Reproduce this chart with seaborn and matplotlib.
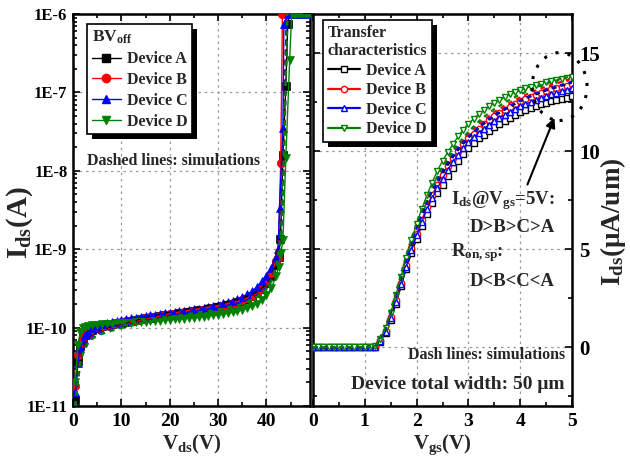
import matplotlib
matplotlib.use("Agg")
import numpy as np
import matplotlib.pyplot as plt
import seaborn as sns
from matplotlib.lines import Line2D
from matplotlib.patches import Ellipse, Rectangle
from matplotlib.transforms import IdentityTransform
from matplotlib.ticker import MultipleLocator, LogLocator, FuncFormatter, NullFormatter

# ---------------------------------------------------------------- data
DEVICES = ["Device A", "Device B", "Device C", "Device D"]
COLORS = ["#000000", "#ff0000", "#0000ff", "#008000"]
MARKERS = ["s", "o", "^", "v"]

# Off-state breakdown sweep (Vds in V, Ids in units of 1E-10 A)
VDS_LOW = [0.5, 1, 1.5, 2, 2.5, 3, 4, 5, 6, 7, 8, 9, 10, 11, 12, 13, 14, 15, 16,
           17, 18, 19, 20, 21, 22, 23, 24, 25, 26, 27, 28, 29, 30, 31, 32, 33,
           34, 35, 36, 37, 38, 39, 40, 41, 42]
IDS_LOW_A = [0.12, 0.38, 0.58, 0.72, 0.8, 0.86, 0.94, 1.0, 1.04, 1.07, 1.1, 1.13,
             1.16, 1.19, 1.22, 1.25, 1.28, 1.31, 1.34, 1.37, 1.4, 1.43, 1.46,
             1.49, 1.52, 1.55, 1.58, 1.61, 1.65, 1.69, 1.73, 1.78, 1.83, 1.89,
             1.95, 2.02, 2.1, 2.2, 2.33, 2.5, 2.75, 3.1, 3.7, 4.6, 6.2]
IDS_LOW_B = [0.18, 0.45, 0.62, 0.74, 0.82, 0.88, 0.95, 1.01, 1.05, 1.08, 1.11,
             1.14, 1.17, 1.2, 1.23, 1.26, 1.29, 1.32, 1.35, 1.38, 1.41, 1.44,
             1.47, 1.5, 1.53, 1.56, 1.59, 1.62, 1.66, 1.7, 1.74, 1.79, 1.84, 1.9,
             1.96, 2.03, 2.12, 2.22, 2.36, 2.55, 2.8, 3.2, 3.9, 5.0, 7.0]
IDS_LOW_C = [0.15, 0.35, 0.55, 0.7, 0.8, 0.88, 0.98, 1.05, 1.1, 1.14, 1.18, 1.22,
             1.25, 1.28, 1.31, 1.34, 1.37, 1.4, 1.43, 1.46, 1.49, 1.52, 1.55,
             1.58, 1.61, 1.64, 1.67, 1.71, 1.75, 1.79, 1.84, 1.9, 1.96, 2.03, 2.1,
             2.2, 2.32, 2.47, 2.65, 2.9, 3.3, 3.9, 4.6, 5.8, 8.0]
IDS_LOW_D = [0.2, 0.6, 0.88, 0.98, 1.03, 1.05, 1.07, 1.09, 1.1, 1.11, 1.12, 1.13,
             1.14, 1.15, 1.16, 1.17, 1.18, 1.19, 1.2, 1.21, 1.22, 1.24, 1.25,
             1.27, 1.29, 1.3, 1.32, 1.34, 1.36, 1.38, 1.4, 1.43, 1.46, 1.49, 1.53,
             1.57, 1.62, 1.68, 1.76, 1.87, 2.02, 2.25, 2.6, 3.2, 4.5]

# Breakdown region up to the 1E-6 A compliance (Vds in V, Ids in A)
TAIL_V_A = [42.5, 42.9, 43.4, 44.0, 44.4, 44.8, 45.5, 46.5, 47.5, 48.5]
TAIL_I_A = [8e-10, 1.35e-9, 1.6e-8, 1.2e-7, 7.5e-7, 1e-6, 1e-6, 1e-6, 1e-6, 1e-6]
TAIL_V_B = [42.4, 42.95, 43.3, 44.0, 45.0, 46.0, 47.0, 48.0]
TAIL_I_B = [7.7e-10, 1.25e-8, 1e-6, 1e-6, 1e-6, 1e-6, 1e-6, 1e-6]
TAIL_V_C = [42.4, 42.7, 43.4, 43.6, 44.5, 45.5, 46.5, 47.5, 48.5]
TAIL_I_C = [1.0e-9, 3.4e-9, 3.5e-8, 7.5e-7, 1e-6, 1e-6, 1e-6, 1e-6, 1e-6]
TAIL_V_D = [42.5, 43.0, 43.4, 44.0, 44.8, 45.2, 45.6, 46.0, 46.4, 46.8, 47.2,
            47.6, 48.0, 48.4, 48.8]
TAIL_I_D = [6e-10, 9e-10, 1.3e-9, 1.45e-8, 2.6e-7, 1e-6, 1e-6, 1e-6, 1e-6, 1e-6,
            1e-6, 1e-6, 1e-6, 1e-6, 1e-6]

# Simulated breakdown curves (Ids in units of 1E-10 A)
SIM_VDS = [0.5, 1, 1.5, 2, 3, 4, 5, 7, 10, 15, 20, 25, 30, 35, 38, 40, 41, 42,
           43, 43.5, 44, 44.3]
SIM_BV_A = [0.1, 0.25, 0.4, 0.52, 0.68, 0.78, 0.85, 0.95, 1.08, 1.3, 1.55, 1.78,
            2.0, 2.35, 2.8, 3.5, 4.3, 6.5, 20, 150, 3000, 10000]
SIM_BV_B = [0.1, 0.23, 0.38, 0.5, 0.66, 0.76, 0.83, 0.93, 1.05, 1.26, 1.48, 1.68,
            1.88, 2.2, 2.65, 3.3, 4.1, 6.2, 18, 120, 2500, 10000]
SIM_BV_C = [0.1, 0.22, 0.36, 0.48, 0.64, 0.74, 0.81, 0.91, 1.02, 1.22, 1.42, 1.6,
            1.78, 2.1, 2.55, 3.2, 4.0, 6.0, 16, 100, 2000, 10000]
SIM_BV_D = [0.1, 0.21, 0.35, 0.46, 0.62, 0.72, 0.79, 0.88, 0.99, 1.18, 1.36,
            1.53, 1.7, 2.0, 2.45, 3.1, 3.9, 5.8, 14, 80, 1500, 10000]

# Transfer characteristics (Vgs in V, Ids in uA/um)
VGS = [0.0, 0.1, 0.2, 0.3, 0.4, 0.5, 0.6, 0.7, 0.8, 0.9, 1.0, 1.1, 1.2, 1.3, 1.4,
       1.5, 1.6, 1.7, 1.8, 1.9, 2.0, 2.1, 2.2, 2.3, 2.4, 2.5, 2.6, 2.7, 2.8, 2.9,
       3.0, 3.1, 3.2, 3.3, 3.4, 3.5, 3.6, 3.7, 3.8, 3.9, 4.0, 4.1, 4.2, 4.3, 4.4,
       4.5, 4.6, 4.7, 4.8, 4.9, 5.0]
ID_A = [0, 0, 0, 0, 0, 0, 0, 0, 0, 0, 0, 0, 0.02, 0.25, 0.75, 1.4, 2.2, 3.1, 4.0,
        4.8, 5.5, 6.2, 6.8, 7.35, 7.85, 8.3, 8.75, 9.15, 9.5, 9.85, 10.15, 10.4,
        10.65, 10.85, 11.05, 11.25, 11.4, 11.55, 11.7, 11.85, 12.0, 12.1, 12.2,
        12.3, 12.4, 12.45, 12.55, 12.6, 12.65, 12.7, 12.8]
ID_B = [0, 0, 0, 0, 0, 0, 0, 0, 0, 0, 0, 0, 0.03, 0.3, 0.85, 1.55, 2.4, 3.3, 4.2,
        5.05, 5.8, 6.5, 7.15, 7.75, 8.3, 8.8, 9.25, 9.65, 10.0, 10.35, 10.65,
        10.9, 11.15, 11.4, 11.6, 11.8, 11.95, 12.1, 12.25, 12.4, 12.55, 12.65,
        12.75, 12.85, 12.95, 13.05, 13.15, 13.2, 13.3, 13.35, 13.45]
ID_C = [0, 0, 0, 0, 0, 0, 0, 0, 0, 0, 0, 0, 0.03, 0.3, 0.8, 1.5, 2.3, 3.2, 4.1,
        4.95, 5.7, 6.4, 7.05, 7.6, 8.1, 8.6, 9.05, 9.45, 9.8, 10.15, 10.45, 10.7,
        10.95, 11.15, 11.35, 11.55, 11.7, 11.85, 12.0, 12.15, 12.3, 12.4, 12.5,
        12.6, 12.7, 12.8, 12.9, 12.95, 13.05, 13.1, 13.2]
ID_D = [0, 0, 0, 0, 0, 0, 0, 0, 0, 0, 0, 0, 0.05, 0.4, 1.0, 1.75, 2.65, 3.6, 4.55,
        5.45, 6.3, 7.05, 7.75, 8.4, 9.0, 9.5, 9.95, 10.35, 10.75, 11.1, 11.4,
        11.65, 11.9, 12.1, 12.3, 12.45, 12.6, 12.75, 12.9, 13.0, 13.1, 13.2, 13.3,
        13.4, 13.45, 13.55, 13.6, 13.65, 13.7, 13.75, 13.8]

# Simulated transfer curves (uA/um)
SIM_VGS = [0, 0.5, 1.0, 1.2, 1.4, 1.6, 1.8, 2.0, 2.25, 2.5, 2.75, 3.0, 3.25, 3.5,
           3.75, 4.0, 4.25, 4.5, 4.75, 5.0]
SIM_ID_A = [0, 0, 0, 0.05, 0.9, 2.6, 4.5, 6.1, 7.7, 8.9, 9.9, 10.7, 11.3, 11.8,
            12.2, 12.55, 12.85, 13.1, 13.3, 13.5]
SIM_ID_B = [0, 0, 0, 0.05, 0.95, 2.7, 4.6, 6.25, 7.85, 9.1, 10.1, 10.9, 11.5,
            12.0, 12.4, 12.75, 13.05, 13.3, 13.5, 13.7]
SIM_ID_C = [0, 0, 0, 0.05, 0.9, 2.65, 4.5, 6.15, 7.75, 9.0, 10.0, 10.75, 11.35,
            11.85, 12.25, 12.6, 12.9, 13.15, 13.35, 13.55]
SIM_ID_D = [0, 0, 0, 0.05, 1.0, 2.8, 4.7, 6.35, 7.95, 9.2, 10.2, 11.0, 11.65,
            12.15, 12.55, 12.9, 13.2, 13.45, 13.65, 13.85]

# ---------------------------------------------------------------- style
sns.set_theme(style="ticks")
plt.rcParams["font.family"] = ["Liberation Serif", "DejaVu Serif"]
plt.rcParams["font.weight"] = "bold"
plt.rcParams["mathtext.fontset"] = "custom"
plt.rcParams["mathtext.rm"] = "Liberation Serif:bold"
plt.rcParams["mathtext.it"] = "Liberation Serif:bold"
plt.rcParams["mathtext.bf"] = "Liberation Serif:bold"
plt.rcParams["axes.linewidth"] = 1.8
plt.rcParams["axes.edgecolor"] = "black"
plt.rcParams["xtick.color"] = "black"
plt.rcParams["ytick.color"] = "black"

fig = plt.figure(figsize=(6.3, 4.61), dpi=100)
ax1 = fig.add_axes([73 / 630, 55 / 461, 237 / 630, 392 / 461])
ax2 = fig.add_axes([313 / 630, 55 / 461, 259 / 630, 392 / 461])

grid_kw = dict(color="#9a9a9a", linestyle=(0, (2, 3)), linewidth=0.9)
sim_ls = (0, (2, 2))

# ---------------------------------------------------------------- BV panel
ax1.set_yscale("log")
low_sets = [IDS_LOW_A, IDS_LOW_B, IDS_LOW_C, IDS_LOW_D]
tail_v = [TAIL_V_A, TAIL_V_B, TAIL_V_C, TAIL_V_D]
tail_i = [TAIL_I_A, TAIL_I_B, TAIL_I_C, TAIL_I_D]
for low, tv, ti, col, mk in zip(low_sets, tail_v, tail_i, COLORS, MARKERS):
    v = list(VDS_LOW) + list(tv)
    cur = [x * 1e-10 for x in low] + list(ti)
    sns.lineplot(x=v, y=cur, ax=ax1, color=col, marker=mk, markersize=6,
                 markeredgecolor=col, markerfacecolor=col, markeredgewidth=0.5,
                 linewidth=1.0, estimator=None, sort=False, legend=False,
                 zorder=3)

for sim, col in zip([SIM_BV_A, SIM_BV_B, SIM_BV_C, SIM_BV_D], COLORS):
    sns.lineplot(x=SIM_VDS, y=[x * 1e-10 for x in sim], ax=ax1, color=col,
                 linestyle=sim_ls, linewidth=1.8, estimator=None, sort=False,
                 legend=False, zorder=4)

ax1.set_xlim(0, 49)
ax1.set_ylim(1e-11, 1e-6)
ax1.xaxis.set_major_locator(MultipleLocator(10))
ax1.xaxis.set_minor_locator(MultipleLocator(5))
ax1.yaxis.set_major_locator(LogLocator(base=10, numticks=10))
ax1.yaxis.set_minor_locator(LogLocator(base=10, subs=np.arange(2, 10), numticks=20))
ax1.yaxis.set_minor_formatter(NullFormatter())
ax1.yaxis.set_major_formatter(
    FuncFormatter(lambda val, pos: "1E%d" % int(round(np.log10(val)))))
ax1.grid(True, which="major", **grid_kw)
ax1.tick_params(which="both", direction="in", top=True, right=True, width=1.2)
ax1.tick_params(which="major", length=5)
ax1.tick_params(which="minor", length=3)
ax1.tick_params(axis="x", labelsize=14, pad=5)
ax1.tick_params(axis="y", labelsize=12, pad=4)
ax1.set_xlabel(r"V$_{ds}$(V)", fontsize=15, fontweight="bold", labelpad=2)
ax1.set_ylabel(r"I$_{ds}$(A)", fontsize=21, fontweight="bold")
ax1.yaxis.set_label_coords(-0.16, 0.467)

ax1.text(20.7, 1.33e-8, "Dashed lines: simulations", fontsize=11.5,
         fontweight="bold", ha="center", va="center")

h1 = [Line2D([], [], color=c, marker=m, markersize=6, markerfacecolor=c,
             markeredgecolor=c, linewidth=1.0) for c, m in zip(COLORS, MARKERS)]
leg1 = ax1.legend(h1, DEVICES, title=r"BV$_{off}$", loc="upper left",
                  bbox_to_anchor=(0.059, 0.974), borderaxespad=0,
                  frameon=True, fancybox=False, framealpha=1,
                  edgecolor="black", fontsize=11.5, title_fontsize=12.5,
                  handlelength=1.8, handletextpad=0.4, labelspacing=0.3,
                  borderpad=0.3, alignment="left")
leg1.get_frame().set_linewidth(1.2)
leg1.set_zorder(10)

# ---------------------------------------------------------------- transfer panel
for cur, col, mk in zip([ID_A, ID_B, ID_C, ID_D], COLORS, MARKERS):
    sns.lineplot(x=VGS, y=cur, ax=ax2, color=col, marker=mk, markersize=4.5,
                 markeredgecolor=col, markerfacecolor="white",
                 markeredgewidth=1.0, linewidth=1.0, estimator=None, sort=False,
                 legend=False, zorder=3)
for sim, col in zip([SIM_ID_A, SIM_ID_B, SIM_ID_C, SIM_ID_D], COLORS):
    sns.lineplot(x=SIM_VGS, y=sim, ax=ax2, color=col, linestyle=sim_ls,
                 linewidth=1.6, estimator=None, sort=False, legend=False,
                 zorder=4)

ax2.set_xlim(0, 5)
ax2.set_ylim(-3, 17)
ax2.xaxis.set_major_locator(MultipleLocator(1))
ax2.xaxis.set_minor_locator(MultipleLocator(0.5))
ax2.yaxis.set_major_locator(MultipleLocator(5))
ax2.yaxis.set_minor_locator(MultipleLocator(2.5))
ax2.yaxis.tick_right()
ax2.yaxis.set_label_position("right")
ax2.grid(True, which="major", **grid_kw)
ax2.tick_params(which="both", direction="in", top=True, right=True, left=True,
                labelleft=False, labelright=True, width=1.2)
ax2.tick_params(which="major", length=5)
ax2.tick_params(which="minor", length=3)
ax2.tick_params(axis="x", labelsize=14, pad=5)
ax2.tick_params(axis="y", labelsize=15, pad=5)
ax2.set_xlabel(r"V$_{gs}$(V)", fontsize=15, fontweight="bold", labelpad=2)
ax2.set_ylabel(r"I$_{ds}$(μA/um)", fontsize=19.5, fontweight="bold")
ax2.yaxis.set_label_coords(1.10, 0.47)

h2 = [Line2D([], [], color=c, marker=m, markersize=4.5, markerfacecolor="white",
             markeredgecolor=c, markeredgewidth=1.0, linewidth=1.6)
      for c, m in zip(COLORS, MARKERS)]
leg2 = ax2.legend(h2, DEVICES, title="Transfer\ncharacteristics", loc="upper left",
                  bbox_to_anchor=(0.039, 0.985), borderaxespad=0,
                  frameon=True, fancybox=False, framealpha=1,
                  edgecolor="black", fontsize=11.5, title_fontsize=11.5,
                  handlelength=2.0, handletextpad=0.4, labelspacing=0.22,
                  borderpad=0.3)
leg2.get_frame().set_linewidth(1.2)
leg2.set_zorder(10)

ax2.text(2.67, 7.28, r"I$_{ds}$@V$_{gs}$=5V:", fontsize=13.5, fontweight="bold",
         ha="left", va="baseline")
ax2.text(3.02, 5.9, "D>B>C>A", fontsize=13.5, fontweight="bold", ha="left",
         va="baseline")
ax2.text(2.67, 4.63, r"R$_{on,sp}$:", fontsize=13.5, fontweight="bold",
         ha="left", va="baseline")
ax2.text(3.02, 3.1, "D<B<C<A", fontsize=13.5, fontweight="bold", ha="left",
         va="baseline")
ax2.text(3.35, -0.4, "Dash lines: simulations", fontsize=11.5,
         fontweight="bold", ha="center", va="center")
ax2.text(2.79, -1.9, "Device total width: 50 μm", fontsize=14,
         fontweight="bold", ha="center", va="center")

ax2.add_patch(Ellipse((4.76, 13.3), width=1.06, height=3.46, fill=False,
                      edgecolor="black", linestyle=(0, (1, 3)), linewidth=2.2,
                      clip_on=False, zorder=6))
ax2.annotate("", xy=(4.66, 11.7), xytext=(4.14, 8.3),
             arrowprops=dict(arrowstyle="-|>", color="black", lw=1.5,
                             mutation_scale=14, shrinkA=0, shrinkB=0),
             zorder=6)

# solid drop shadows behind both legend boxes
fig.canvas.draw()
for ax, leg in ((ax1, leg1), (ax2, leg2)):
    bb = leg.get_window_extent()
    shadow = Rectangle((bb.x0 + 5, bb.y0 - 5), bb.width, bb.height,
                       transform=IdentityTransform(), facecolor="black",
                       edgecolor="none", clip_on=False, zorder=9.9)
    ax.add_artist(shadow)

fig.savefig("out.png", dpi=100)
